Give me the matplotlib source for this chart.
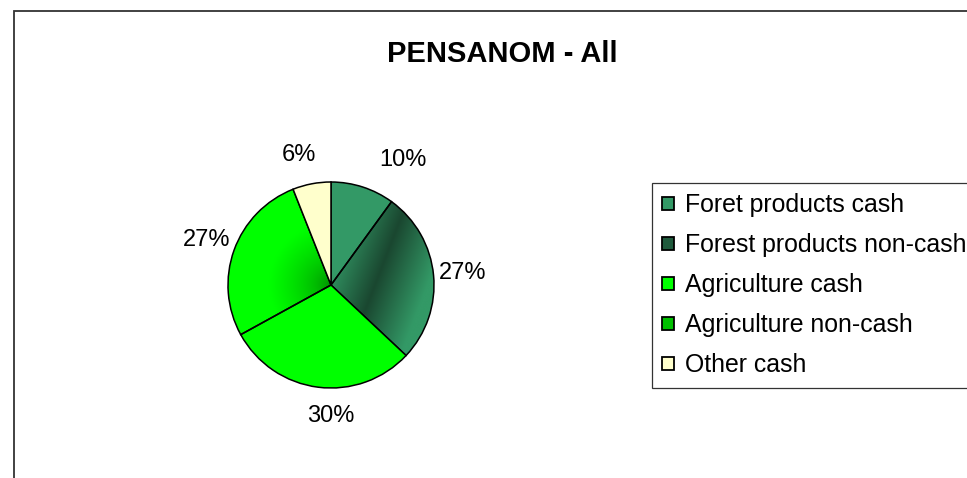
import numpy as np
import matplotlib
matplotlib.use("Agg")
import matplotlib.pyplot as plt
from matplotlib.patches import Patch, Rectangle

plt.rcParams["font.family"] = ["Liberation Sans", "DejaVu Sans"]

# data
categories = ["Foret products cash", "Forest products non-cash",
              "Agriculture cash", "Agriculture non-cash", "Other cash"]
shares = [10, 27, 30, 27, 6]

# styling
colors = ["#339966", "#236b47", "#00ff00", "#00d800", "#ffffcc"]
# small label nudges (radius units) to mimic the spreadsheet's label placement
label_nudge = [(0.30, 0.0), (0.0, 0.0), (0.16, 0.0), (0.0, 0.0), (-0.07, 0.0)]

W, H = 967, 478
fig = plt.figure(figsize=(W / 100, H / 100), dpi=100)

# outer chart frame (right and bottom run off the picture)
fig.patches.append(Rectangle((14 / W, -0.1), 2.0, 1 - 11 / H + 0.1,
                             transform=fig.transFigure, fill=False,
                             edgecolor="#333333", lw=1.3))

fig.text(502 / W, 1 - 62 / H, "PENSANOM - All", ha="center", va="baseline",
         fontsize=21, fontweight="bold")

# pie axes: centre (331, 285) px, radius 103 px
cx, cy, r = 331, H - 285, 103
ax = fig.add_axes([(cx - r) / W, (cy - r) / H, 2 * r / W, 2 * r / H])

wedges, texts, autotexts = ax.pie(
    shares, colors=colors, startangle=90, counterclock=False,
    autopct="%1.0f%%", pctdistance=1.28, radius=1.0,
    wedgeprops=dict(edgecolor="black", linewidth=1.1, zorder=2),
    textprops=dict(fontsize=17))
ax.set_xlim(-1, 1)
ax.set_ylim(-1, 1)
ax.set_aspect("auto")
ax.axis("off")

for t, (dx, dy) in zip(autotexts, label_nudge):
    x, y = t.get_position()
    t.set_position((x + dx, y + dy))
    t.set_ha("center")
    t.set_va("center")

# gradient fills
n = 400
gx, gy = np.meshgrid(np.linspace(-1, 1, n), np.linspace(1, -1, n))

# forest non-cash: linear band gradient, dark stripe across the slice
light = np.array([0x33, 0x99, 0x66]) / 255
dark = np.array([0x1a, 0x47, 0x30]) / 255
p = gx * 0.93 - gy * 0.36
t = np.clip(np.abs(p - 0.40) / 0.48, 0, 1)[..., None]
img1 = dark + (light - dark) * t
im1 = ax.imshow(img1, extent=(-1, 1, -1, 1), zorder=1, aspect="auto")
im1.set_clip_path(wedges[1])
wedges[1].set_facecolor("none")

# agriculture non-cash: radial gradient, darker at the pie centre
bright = np.array([0x00, 0xff, 0x00]) / 255
deep = np.array([0x00, 0x80, 0x00]) / 255
rr = np.sqrt(gx ** 2 + gy ** 2)
t2 = np.clip(rr / 0.6, 0, 1)[..., None] ** 0.55
img2 = deep + (bright - deep) * t2
im2 = ax.imshow(img2, extent=(-1, 1, -1, 1), zorder=1, aspect="auto")
im2.set_clip_path(wedges[3])
wedges[3].set_facecolor("none")

handles = [Patch(facecolor=c, edgecolor="black", lw=1.3) for c in
           ["#339966", "#1f5a3c", "#00ff00", "#00c000", "#ffffcc"]]
leg = fig.legend(handles, categories, loc="upper left",
                 bbox_to_anchor=(652 / W, 1 - 183 / H), borderaxespad=0,
                 fontsize=17.9, frameon=True, fancybox=False,
                 handlelength=0.45, handleheight=0.45, handletextpad=0.45,
                 labelspacing=0.64, borderpad=0.42)
leg.get_frame().set_edgecolor("black")
leg.get_frame().set_linewidth(0.9)

fig.savefig("out.png", dpi=100)
